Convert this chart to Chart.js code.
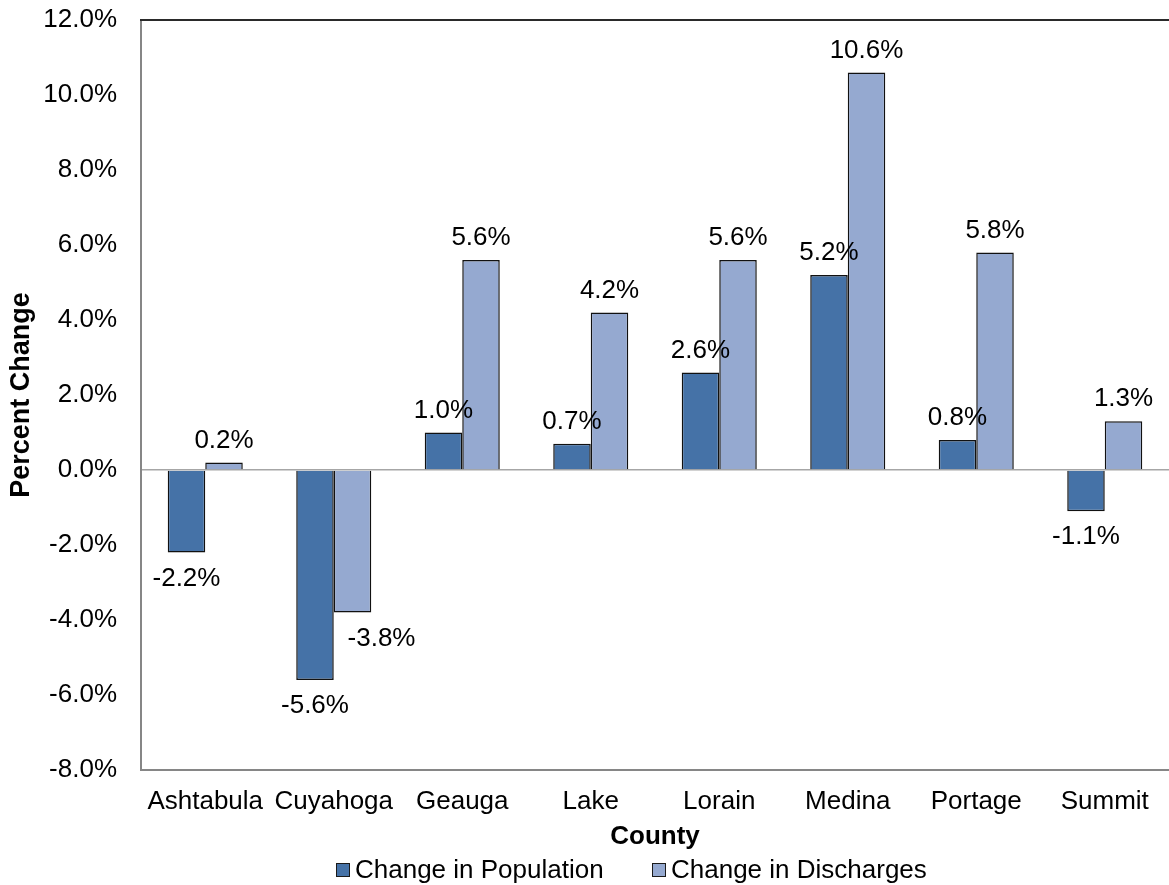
<!DOCTYPE html>
<html>
<head>
<meta charset="utf-8">
<script src="https://cdn.jsdelivr.net/npm/chart.js@4/dist/chart.umd.min.js"></script>
<style>
  html, body { margin: 0; padding: 0; background: #ffffff; }
  #wrap { width: 1169px; height: 885px; }
</style>
</head>
<body>
<div id="wrap"><canvas id="chart" width="1169" height="885"></canvas></div>
<script>
// County-level percent change, population vs. hospital discharges
const counties = ['Ashtabula', 'Cuyahoga', 'Geauga', 'Lake', 'Lorain', 'Medina', 'Portage', 'Summit'];
const populationChange = [-2.2, -5.6, 1.0, 0.7, 2.6, 5.2, 0.8, -1.1];
const dischargeChange = [0.2, -3.8, 5.6, 4.2, 5.6, 10.6, 5.8, 1.3];
const seriesNames = ['Change in Population', 'Change in Discharges'];
const yMin = -8, yMax = 12, yStep = 2;

const FONT = "'Liberation Sans', Arial, Helvetica, sans-serif";
const COLORS = ['#4572a7', '#95a9d0'];

// Value labels at the outer end of each bar
const valueLabels = {
  id: 'valueLabels',
  afterDatasetsDraw(chart) {
    const ctx = chart.ctx;
    ctx.save();
    ctx.font = '26px ' + FONT;
    ctx.fillStyle = '#000000';
    ctx.textAlign = 'center';
    ctx.textBaseline = 'middle';
    // small sideways nudge where two labels would collide
    const nudge = { '1:1': 29 };
    chart.data.datasets.forEach((ds, di) => {
      const meta = chart.getDatasetMeta(di);
      meta.data.forEach((bar, i) => {
        const v = ds.data[i];
        const dx = nudge[di + ':' + i] || 0;
        const y = v >= 0 ? bar.y - 22 : bar.y + 26;
        ctx.fillText(v.toFixed(1) + '%', bar.x + dx, y);
      });
    });
    ctx.restore();
  }
};

// Top edge of the plot frame
const plotFrame = {
  id: 'plotFrame',
  beforeDatasetsDraw(chart) {
    const { ctx, chartArea } = chart;
    ctx.save();
    ctx.strokeStyle = '#2a2a2a';
    ctx.lineWidth = 2;
    ctx.beginPath();
    ctx.moveTo(chartArea.left - 1, chartArea.top);
    ctx.lineTo(chartArea.right, chartArea.top);
    ctx.stroke();
    ctx.restore();
  }
};

// Legend row under the axis title
const bottomLegend = {
  id: 'bottomLegend',
  afterDraw(chart) {
    const ctx = chart.ctx;
    ctx.save();
    ctx.font = '26px ' + FONT;
    ctx.textBaseline = 'middle';
    ctx.textAlign = 'left';
    const starts = [336, 652];
    const cy = 870;
    chart.data.datasets.forEach((ds, i) => {
      const x = starts[i];
      ctx.fillStyle = ds.backgroundColor;
      ctx.fillRect(x, cy - 7, 14, 14);
      ctx.strokeStyle = '#1a1a1a';
      ctx.lineWidth = 1;
      ctx.strokeRect(x + 0.5, cy - 6.5, 13, 13);
      ctx.fillStyle = '#000000';
      ctx.fillText(ds.label, x + 19, cy + 1);
    });
    ctx.restore();
  }
};

new Chart(document.getElementById('chart'), {
  type: 'bar',
  data: {
    labels: counties,
    datasets: [
      { label: seriesNames[0], data: populationChange, backgroundColor: COLORS[0], borderColor: '#111111', borderWidth: 1.5 },
      { label: seriesNames[1], data: dischargeChange, backgroundColor: COLORS[1], borderColor: '#111111', borderWidth: 1.5 }
    ]
  },
  options: {
    responsive: false,
    animation: false,
    devicePixelRatio: 1,
    layout: { padding: { top: 20, right: 0, bottom: 0, left: 0 } },
    datasets: { bar: { categoryPercentage: 0.584, barPercentage: 1.0 } },
    plugins: {
      legend: { display: false },
      tooltip: { enabled: false }
    },
    scales: {
      x: {
        grid: { display: false, drawTicks: false },
        border: { display: true, color: '#868686', width: 2 },
        ticks: { font: { family: FONT, size: 26 }, color: '#000000', padding: 16, maxRotation: 0, autoSkip: false },
        title: { display: true, text: 'County', color: '#000000', font: { family: FONT, size: 26, weight: 'bold' }, padding: { top: 0, bottom: 33 } },
        afterFit(scale) { scale.height = 115; scale.paddingLeft = 0; scale.paddingRight = 0; }
      },
      y: {
        min: yMin,
        max: yMax,
        ticks: {
          stepSize: yStep,
          font: { family: FONT, size: 26 },
          color: '#000000',
          padding: 24,
          callback: v => v.toFixed(1) + '%'
        },
        grid: {
          drawTicks: false,
          color: c => (c.tick && c.tick.value === 0 ? '#a6a6a6' : 'rgba(0,0,0,0)'),
          lineWidth: 1.5
        },
        border: { display: true, color: '#868686', width: 2 },
        title: { display: true, text: 'Percent Change', color: '#000000', font: { family: FONT, size: 27, weight: 'bold' }, padding: { top: 5, bottom: 0 } },
        afterFit(scale) { scale.width = 141; scale.paddingTop = 0; scale.paddingBottom = 0; }
      }
    }
  },
  plugins: [valueLabels, plotFrame, bottomLegend]
});
</script>
</body>
</html>
